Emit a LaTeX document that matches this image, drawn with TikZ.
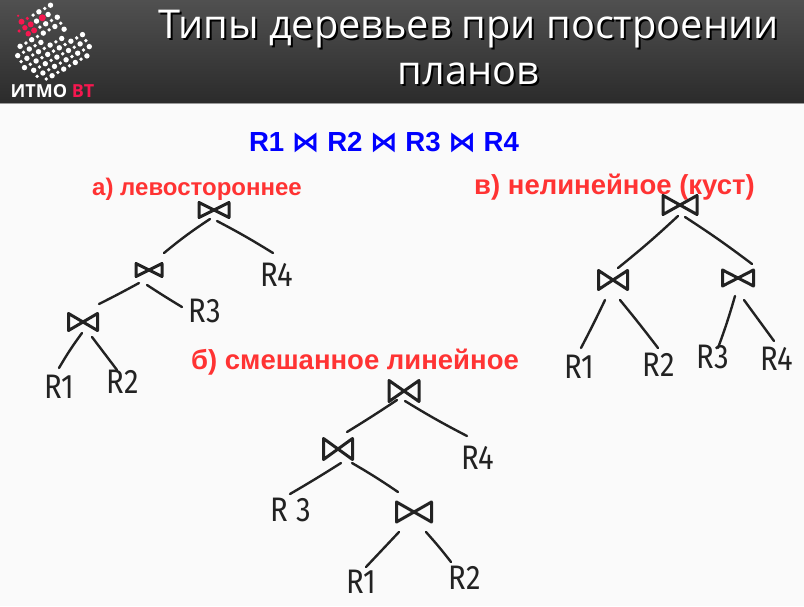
\documentclass[tikz,border=0pt]{standalone}
\usepackage{fontspec}
\setmainfont{Liberation Sans}
\newfontfamily\handfont[FakeStretch=0.86]{Fira Sans}
\newfontfamily\symbfont{DejaVu Sans}
\newfontfamily\titlefont{Open Sans}
\definecolor{pagebg}{HTML}{FAFAFA}
\definecolor{barbottom}{HTML}{2B2B2B}
\definecolor{bartop}{HTML}{505050}
\definecolor{barline}{HTML}{9A9A9A}
\definecolor{labelred}{HTML}{FF3333}
\definecolor{itmored}{HTML}{F5174F}
\definecolor{pen}{HTML}{222222}
\newcommand{\tie}{{\symbfont\bfseries ⋈}}

\begin{document}
\begin{tikzpicture}[
    x=1pt, y=-1pt,
    inkline/.style={pen, line width=2.4pt, line cap=round, line join=round},
    tie/.style={inner sep=0pt, outer sep=0pt,
      append after command={\pgfextra{\draw[inkline, line width=3pt] (\tikzlastnode.south west) -- (\tikzlastnode.north east) -- (\tikzlastnode.south east) -- (\tikzlastnode.north west) -- cycle;}}},
    leaf/.style={inner sep=0pt, outer sep=0pt, pen, font=\handfont\fontsize{34}{34}\selectfont},
    caption/.style={inner sep=0pt, labelred, font=\bfseries\fontsize{27.5}{30}\selectfont},
    heading/.style={inner sep=0pt, align=center, font=\titlefont\fontsize{39.7}{46}\selectfont}
  ]
    \useasboundingbox (0,0) rectangle (804,606);
    \fill[pagebg] (0,0) rectangle (804,606);
    \shade[top color=bartop, bottom color=barbottom] (0,0) rectangle (804,103);
    \fill[barline] (0,103) rectangle (804,104);

    \foreach \i/\js in {-2/{0,1,2}, -1/{-1,0,1,2,3,4}, 0/{-1,0,1,2,3,4,5}, 1/{-1,0,1,2,3,4,5},
                        2/{-1,0,1,2,3,4,5}, 3/{-4,-3,-2,-1,1,2,3,4,5}, 4/{-4,-2,-1,1,2,3,4,5},
                        5/{-4,-3,-2,-1,1,2,3,4,5}, 6/{-4,-2,-1,0,2,3,4,5}, 7/{2,3,4,5}, 8/{2,3,4}} {
      \foreach \j in \js {
        \pgfmathsetmacro{\r}{mod(\i+\j+8,2)==0 ? 2.7 : 1.9}
        \fill[white] (29.3+5.8*\i+3.4*\j, 49-3.3*\i+6*\j) circle[radius=\r];
      }
    }
    \foreach \i/\j/\r in {4/-3/3.5, 1/-4/3, 2/-3/3, 1/-3/2.7, 2/-2/3, 1/-2/2.8, 0/-3/1.8, 2/-4/1.8, 1/-5/1.2} {
      \fill[itmored] (29.3+5.8*\i+3.4*\j, 49-3.3*\i+6*\j) circle[radius=\r];
    }
    \node[inner sep=0pt, white, font=\titlefont\bfseries\fontsize{18}{18}\selectfont] (logotext) at (52.5,91.5) {ИТМО \textcolor{itmored}{ВТ}};

    \node[heading, black] (titleshadow) at (470.5,49.5) {Типы деревьев при построении\\планов};
    \node[heading, white] (title) at (468.5,47.5) {Типы деревьев при построении\\планов};

    \node[inner sep=0pt, blue, font=\bfseries\fontsize{27.6}{30}\selectfont] (formula) at (384,143) {R1 \tie{} R2 \tie{} R3 \tie{} R4};
    \node[caption, font=\bfseries\fontsize{24}{28}\selectfont] (capa) at (197,189) {а) левостороннее};
    \node[caption] (capb) at (355,362.5) {б) смешанное линейное};
    \node[caption] (capv) at (614.5,187) {в) нелинейное (куст)};

    \node[tie, minimum width=30pt, minimum height=15pt] (aroot) at (214,210) {};
    \node[tie, minimum width=26pt, minimum height=13pt] (amid) at (149,270) {};
    \node[tie, minimum width=29pt, minimum height=17pt] (alow) at (83,322) {};
    \node[leaf] (aRfour) at (277,275) {R4};
    \node[leaf] (aRthree) at (205,311) {R3};
    \node[leaf] (aRone) at (59,387) {R1};
    \node[leaf] (aRtwo) at (123,382) {R2};

    \node[tie, minimum width=30pt, minimum height=21pt] (broot) at (404,391) {};
    \node[tie, minimum width=29pt, minimum height=21pt] (bmid) at (338,449) {};
    \node[tie, minimum width=35pt, minimum height=20pt] (blow) at (414,512) {};
    \node[leaf] (bRfour) at (478,458) {R4};
    \node[leaf] (bRthree) at (291,510) {R 3};
    \node[leaf] (bRone) at (361,582) {R1};
    \node[leaf] (bRtwo) at (465,578) {R2};

    \node[tie, minimum width=34pt, minimum height=19pt] (vroot) at (680,205) {};
    \node[tie, minimum width=29pt, minimum height=19pt] (vleft) at (613,280) {};
    \node[tie, minimum width=31pt, minimum height=16pt] (vright) at (738,278) {};
    \node[leaf] (vRone) at (579,367) {R1};
    \node[leaf] (vRtwo) at (659,365) {R2};
    \node[leaf] (vRthree) at (713,357) {R3};
    \node[leaf] (vRfour) at (777,359) {R4};

    \foreach \a/\p/\b/\q/\c in {
        aroot/{-4,9}/amid/{15,-17}/3, aroot/{3,11}/aRfour/{-4,-22}/-2,
        amid/{-10,13}/alow/{16,-18}/-1, amid/{-2,15}/aRthree/{-23,-4}/1,
        alow/{-1,11}/aRone/{0,-19}/3, alow/{9,15}/aRtwo/{-6,-12}/0,
        broot/{-7,9}/bmid/{9,-17}/-1, broot/{1,10}/bRfour/{-11,-22}/2,
        bmid/{3,14}/bRthree/{-1,-16}/-1, bmid/{14,14}/blow/{-16,-20}/-2,
        blow/{-15,20}/bRone/{5,-15}/0, blow/{12,20}/bRtwo/{-14,-16}/-2,
        vroot/{-2,11}/vleft/{5,-12}/-2, vroot/{5,12}/vright/{14,-14}/-2,
        vleft/{-8,20}/vRone/{2,-19}/-1, vleft/{7,20}/vRtwo/{-1,-17}/-1,
        vright/{-3,18}/vRthree/{5,-9}/-2, vright/{6,22}/vRfour/{-3,-18}/0} {
      \draw[inkline] ([shift={(\p)}]\a.center) to[bend right=\c] ([shift={(\q)}]\b.center);
    }
  \end{tikzpicture}
\end{document}
